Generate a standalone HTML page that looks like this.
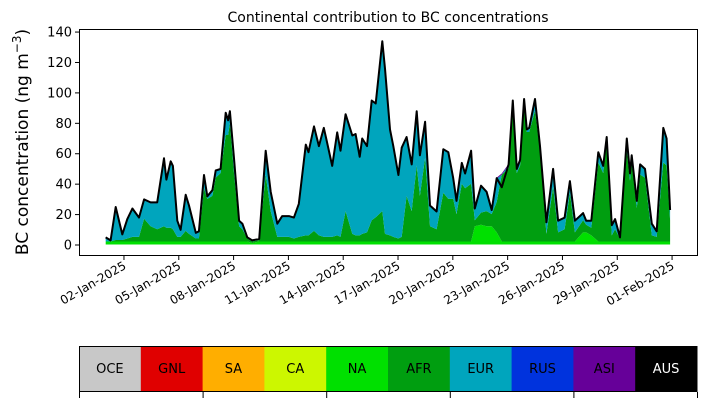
<!DOCTYPE html>
<html><head><meta charset="utf-8">
<style>
body{margin:0;background:#fff;width:707px;height:402px;overflow:hidden;font-family:"Liberation Sans","DejaVu Sans",sans-serif}
svg text{font-family:"DejaVu Sans","Liberation Sans",sans-serif}
</style></head><body>
<svg id="chart" width="707" height="402" viewBox="0 0 707 402" xmlns="http://www.w3.org/2000/svg">
<text x="388" y="22" font-size="14" text-anchor="middle">Continental contribution to BC concentrations</text>
<g id="plot"></g>
<rect x="79.5" y="29.5" width="618" height="226" fill="none" stroke="#000" stroke-width="1"/>
<g id="yaxis"></g>
<g id="xaxis"></g>
<text transform="translate(28,142) rotate(-90)" font-size="17" text-anchor="middle">BC concentration (ng m<tspan dy="-7" font-size="12">−3</tspan><tspan dy="7">)</tspan></text>
<g id="legend"></g>
</svg>
<script>
const days=[0,0.27,0.55,0.91,1.18,1.46,1.82,2.1,2.46,2.82,3.19,3.32,3.56,3.68,3.92,4.1,4.38,4.56,4.93,5.1,5.38,5.56,5.84,6.02,6.29,6.57,6.7,6.8,7.02,7.3,7.48,7.75,8.02,8.4,8.76,9.03,9.39,9.66,10.03,10.3,10.57,10.95,11.1,11.4,11.67,11.94,12.07,12.4,12.67,12.85,13.13,13.5,13.68,13.9,14.04,14.3,14.56,14.78,15.14,15.29,15.56,15.74,16.02,16.2,16.47,16.75,17.02,17.2,17.48,17.75,18.11,18.48,18.75,19.02,19.2,19.49,19.67,20,20.2,20.54,20.85,21.13,21.4,21.68,22.05,22.28,22.5,22.68,22.9,23.05,23.18,23.5,23.77,24.12,24.49,24.76,25.12,25.41,25.68,26.13,26.3,26.58,26.96,27.23,27.42,27.7,27.88,28.15,28.52,28.7,28.79,29.07,29.25,29.52,29.89,30.16,30.52,30.7,30.89];
const total=[5,3,25,7,17,24,18,30,28,28,57,43,55,52,16,10,33,26,8,9,46,32,36,49,50,87,82,88,57,16,14,5,3,4,62,35,14,19,19,18,27,66,61,78,65,77,70,52,74,62,86,72,73,58,70,65,95,93,134,116,76,65,46,64,71,53,88,59,81,26,22,63,61,44,29,54,47,62,24,39,35,23,44,38,53,95,50,56,96,76,77,96,65,15,50,16,18,42,16,21,16,16,61,52,71,13,17,5,70,47,59,29,53,50,14,9,77,70,23];
const afr=[0,0,1,1,2,3,3,15,10,8,10,9,9,8,3,3,7,5,2,2,35,28,30,42,45,70,70,78,45,10,8,2,1,1,44,20,3,3,3,2,3,4,4,7,4,3,3,3,4,3,20,5,4,4,5,6,14,16,20,5,4,3,2,3,30,20,50,30,55,10,8,32,28,28,18,38,35,38,4,8,10,8,20,44,48,90,45,50,93,72,72,86,60,5,36,6,8,32,6,8,5,5,52,45,66,4,8,2,60,40,52,22,44,42,4,3,52,50,14];
const na=[2,2,2,2,2,2,2,2,2,2,2,2,2,2,2,2,2,2,2,2,2,2,2,2,2,2,2,2,2,2,2,2,1,2,2,2,2,2,2,2,2,2,2,2,2,2,2,2,2,2,2,2,2,2,2,2,2,2,2,2,2,2,2,2,2,2,2,2,2,2,2,2,2,2,2,2,2,2,12,13,12,12,8,2,2,2,2,2,2,2,2,2,2,2,2,2,2,2,2,8,8,6,2,2,2,2,2,2,2,2,2,2,2,2,2,2,2,2,2];
const yTicks=[0,20,40,60,80,100,120,140];
const xTickDays=[1,4,7,10,13,16,19,22,25,28,31];
const xTickLabels=["02-Jan-2025","05-Jan-2025","08-Jan-2025","11-Jan-2025","14-Jan-2025","17-Jan-2025","20-Jan-2025","23-Jan-2025","26-Jan-2025","29-Jan-2025","01-Feb-2025"];
const regions=["OCE","GNL","SA","CA","NA","AFR","EUR","RUS","ASI","AUS"];
const regionColors=["#c8c8c8","#e00000","#ffae00","#ccf700","#00e000","#009e10","#00a5bd","#0033dd","#660099","#000000"];

const NS="http://www.w3.org/2000/svg";
const X=d=>105.7+d*18.27;
const Y=v=>245-v*1.521;
function mk(tag,attrs,parent){const e=document.createElementNS(NS,tag);for(const k in attrs)e.setAttribute(k,attrs[k]);parent.appendChild(e);return e;}
const plot=document.getElementById('plot');
const asi=total.map(()=>0.8);
const eur=total.map((t,i)=>Math.max(0,t-afr[i]-na[i]-asi[i]));
const layers=[["na",na,regionColors[4]],["afr",afr,regionColors[5]],["eur",eur,regionColors[6]],["asi",asi,regionColors[8]]];
let base=days.map(()=>0.3);
layers.forEach(([nm,arr,col])=>{
  const top=base.map((b,i)=>b+arr[i]);
  let d="M"+days.map((t,i)=>X(t).toFixed(1)+","+Y(top[i]).toFixed(1)).join("L");
  for(let i=days.length-1;i>=0;i--)d+="L"+X(days[i]).toFixed(1)+","+Y(base[i]).toFixed(1);
  const p=mk('path',{d:d+"Z",fill:col,stroke:'none'},plot);
  
  
  base=top;
});
const ln=mk('path',{d:"M"+days.map((t,i)=>X(t).toFixed(1)+","+Y(total[i]).toFixed(1)).join("L"),fill:'none',stroke:'#000','stroke-width':2,'stroke-linejoin':'round'},plot);


const ya=document.getElementById('yaxis');
yTicks.forEach(v=>{
  const g=mk('g',{},ya);
  
  
  mk('line',{x1:75,x2:79.5,y1:Y(v),y2:Y(v),stroke:'#000'},g);
  const t=mk('text',{x:72,y:Y(v)+4.5,'font-size':13,'text-anchor':'end'},g);t.textContent=v;
});
const xa=document.getElementById('xaxis');
xTickDays.forEach((d,i)=>{
  const g=mk('g',{},xa);
  
  
  const x=X(d);
  mk('line',{x1:x,x2:x,y1:255.5,y2:260,stroke:'#000'},g);
  const t=mk('text',{transform:`translate(${x+3},${268}) rotate(-30)`,'font-size':12,'text-anchor':'end'},g);
  t.textContent=xTickLabels[i];
});
const lg=document.getElementById('legend');
const cw=61.8;
regions.forEach((r,i)=>{
  const g=mk('g',{},lg);
  
  
  mk('rect',{x:79+i*cw,y:346,width:cw+0.5,height:46,fill:regionColors[i]},g);
  const t=mk('text',{x:79+i*cw+cw/2,y:373,'font-size':13,'text-anchor':'middle',fill:r==="AUS"?"#fff":"#000"},g);
  t.textContent=r;
});
mk('rect',{x:79.5,y:346.5,width:617,height:45,fill:'none',stroke:'#000'},lg);
for(let i=0;i<=5;i++){mk('line',{x1:79.5+i*cw*2,x2:79.5+i*cw*2,y1:392,y2:398,stroke:'#000'},lg);}
</script>
</body></html>
